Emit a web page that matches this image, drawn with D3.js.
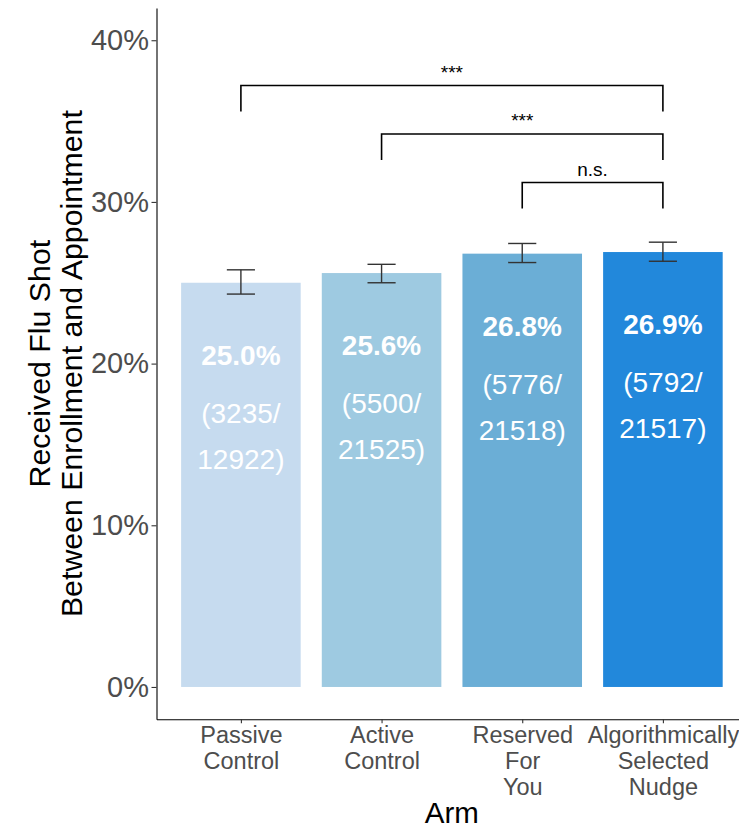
<!DOCTYPE html>
<html>
<head>
<meta charset="utf-8">
<script src="https://cdn.jsdelivr.net/npm/d3@7"></script>
<style>
  html, body { margin: 0; padding: 0; background: #ffffff; }
  svg { display: block; font-family: "Liberation Sans", Arial, Helvetica, sans-serif; }
</style>
</head>
<body>
<svg id="chart" width="739" height="828"></svg>
<script>
// Study arms (line breaks mark the wrapped axis labels)
const arms = [
  "Passive\nControl",
  "Active\nControl",
  "Reserved\nFor\nYou",
  "Algorithmically\nSelected\nNudge"
];
// Share who received a flu shot, per arm
const rates = [0.250, 0.256, 0.268, 0.269];
// Vaccinated / enrolled counts
const vaccinated = [3235, 5500, 5776, 5792];
const enrolled = [12922, 21525, 21518, 21517];
// 95% confidence interval bounds
const ciLower = [0.243, 0.250, 0.2625, 0.2633];
const ciUpper = [0.258, 0.2614, 0.2743, 0.2751];
const barColors = ["#c6dbef", "#9ecae1", "#6baed6", "#2288db"];
// Pairwise comparisons against the algorithmic nudge
const comparisons = [
  { from: 0, to: 3, y: 0.372, label: "***" },
  { from: 1, to: 3, y: 0.342, label: "***" },
  { from: 2, to: 3, y: 0.312, label: "n.s." }
];
const yTicks = [0, 0.1, 0.2, 0.3, 0.4];

const svg = d3.select("#chart");
const panel = { left: 156.5, right: 747.3, top: 7.9, bottom: 719.3 };

const x = d3.scalePoint()
  .domain(arms)
  .range([panel.left, panel.right])
  .padding(0.6);
const step = x.step();
const barW = step * 0.85;
const capW = step * 0.2;

const y = d3.scaleLinear()
  .domain([-0.02, 0.42])
  .range([panel.bottom, panel.top]);

const rows = arms.map((a, i) => ({
  arm: a, rate: rates[i], n: vaccinated[i], total: enrolled[i],
  lo: ciLower[i], hi: ciUpper[i], color: barColors[i]
}));

// Bars
svg.append("g").selectAll("rect").data(rows).join("rect")
  .attr("x", d => x(d.arm) - barW / 2)
  .attr("width", barW)
  .attr("y", d => y(d.rate))
  .attr("height", d => y(0) - y(d.rate))
  .attr("fill", d => d.color);

// Error bars
const eb = svg.append("g").attr("stroke", "#333333").attr("stroke-width", 1.4).attr("fill", "none");
rows.forEach(d => {
  const cx = x(d.arm);
  eb.append("line").attr("x1", cx).attr("x2", cx).attr("y1", y(d.lo)).attr("y2", y(d.hi));
  eb.append("line").attr("x1", cx - capW / 2).attr("x2", cx + capW / 2).attr("y1", y(d.lo)).attr("y2", y(d.lo));
  eb.append("line").attr("x1", cx - capW / 2).attr("x2", cx + capW / 2).attr("y1", y(d.hi)).attr("y2", y(d.hi));
});

// Value labels inside the bars
const pct = d3.format(".1%");
const lbl = svg.append("g").attr("fill", "#ffffff").attr("text-anchor", "middle").attr("font-size", 28);
rows.forEach(d => {
  const cx = x(d.arm);
  const top = y(d.rate);
  lbl.append("text").attr("x", cx).attr("y", top + 82).attr("font-weight", "bold").text(pct(d.rate));
  lbl.append("text").attr("x", cx).attr("y", top + 140).text(`(${d.n}/`);
  lbl.append("text").attr("x", cx).attr("y", top + 186).text(`${d.total})`);
});

// Significance brackets
const tip = 0.016;
const br = svg.append("g");
comparisons.forEach(c => {
  const x1 = x(arms[c.from]), x2 = x(arms[c.to]);
  const yy = y(c.y), yt = y(c.y - tip);
  br.append("path")
    .attr("d", `M${x1},${yt}V${yy}H${x2}V${yt}`)
    .attr("fill", "none").attr("stroke", "#000000").attr("stroke-width", 1.6);
  br.append("text")
    .attr("x", (x1 + x2) / 2).attr("y", yy - 7)
    .attr("text-anchor", "middle").attr("font-size", 19).attr("fill", "#000000")
    .text(c.label);
});

// Y axis
const yAxis = svg.append("g")
  .attr("transform", `translate(${panel.left},0)`)
  .call(d3.axisLeft(y).tickValues(yTicks).tickFormat(d3.format(".0%")).tickSize(5).tickSizeOuter(0).tickPadding(2.5));
yAxis.select(".domain").attr("stroke", "#000000").attr("stroke-width", 1.1);
yAxis.selectAll(".tick line").attr("stroke", "#333333").attr("stroke-width", 1.1);
yAxis.selectAll(".tick text")
  .attr("font-size", 29).attr("fill", "#4d4d4d")
  .attr("font-family", "Liberation Sans, Arial, Helvetica, sans-serif");

// X axis with wrapped labels
const xAxis = svg.append("g")
  .attr("transform", `translate(0,${panel.bottom})`)
  .call(d3.axisBottom(x).tickSize(4).tickSizeOuter(0).tickFormat(""));
xAxis.select(".domain").attr("stroke", "#000000").attr("stroke-width", 1.1);
xAxis.selectAll(".tick line").attr("stroke", "#333333").attr("stroke-width", 1.1);
xAxis.selectAll(".tick").each(function(a) {
  const t = d3.select(this).append("text")
    .attr("text-anchor", "middle").attr("font-size", 23.5).attr("fill", "#4d4d4d")
    .attr("font-family", "Liberation Sans, Arial, Helvetica, sans-serif");
  a.split("\n").forEach((line, i) => {
    t.append("tspan").attr("x", 0).attr("y", 23.5 + i * 26.2).text(line);
  });
});

// Axis titles
const midY = (panel.top + panel.bottom) / 2;
const yTitle = svg.append("text")
  .attr("transform", `translate(0,${midY}) rotate(-90)`)
  .attr("text-anchor", "middle").attr("font-size", 30.3).attr("fill", "#000000");
["Received Flu Shot", "Between Enrollment and Appointment"].forEach((line, i) => {
  yTitle.append("tspan").attr("x", 0).attr("y", 49.5 + i * 32.5).text(line);
});

svg.append("text")
  .attr("x", (panel.left + panel.right) / 2).attr("y", 823)
  .attr("text-anchor", "middle").attr("font-size", 29.5).attr("fill", "#000000")
  .text("Arm");
</script>
</body>
</html>
